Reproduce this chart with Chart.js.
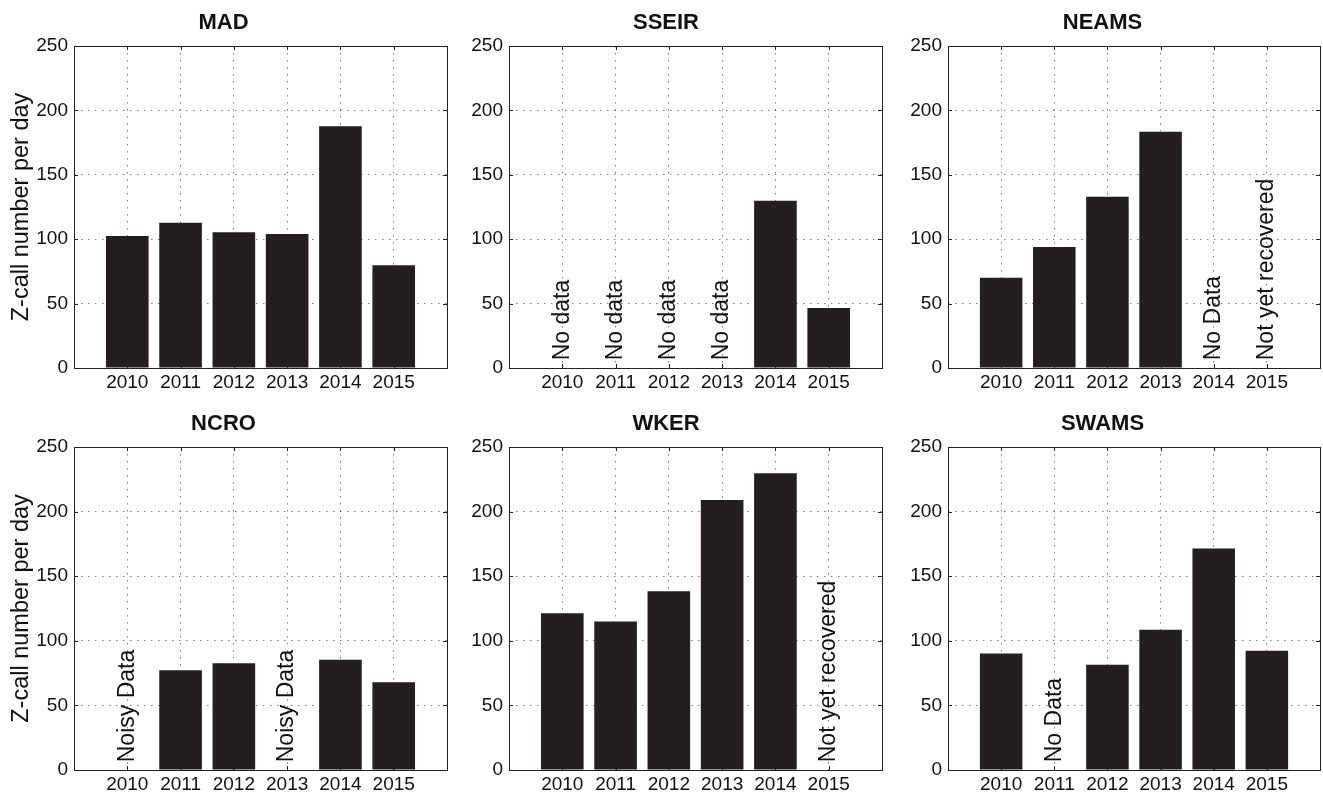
<!DOCTYPE html>
<html>
<head>
<meta charset="utf-8">
<script src="https://cdn.jsdelivr.net/npm/chart.js@4"></script>
<style>
  html, body { margin: 0; padding: 0; background: #fff; }
  body { width: 1323px; height: 794px; position: relative; overflow: hidden; }
  .panel { position: absolute; }
</style>
</head>
<body>
<div class="panel" id="p0"><canvas id="c0"></canvas></div>
<div class="panel" id="p1"><canvas id="c1"></canvas></div>
<div class="panel" id="p2"><canvas id="c2"></canvas></div>
<div class="panel" id="p3"><canvas id="c3"></canvas></div>
<div class="panel" id="p4"><canvas id="c4"></canvas></div>
<div class="panel" id="p5"><canvas id="c5"></canvas></div>
<script>
// data
const years = [2010, 2011, 2012, 2013, 2014, 2015];
const yTicks = [0, 50, 100, 150, 200, 250];
const titles = ['MAD', 'SSEIR', 'NEAMS', 'NCRO', 'WKER', 'SWAMS'];
const yLabel = 'Z-call number per day';

const madValues   = [102.5, 112.8, 105.3, 104.0, 187.6, 79.7];
const sseirValues = [null, null, null, null, 129.9, 46.6];
const neamsValues = [70.1, 93.9, 133.0, 183.5, null, null];
const ncroValues  = [null, 77.3, 82.7, null, 85.3, 68.0];
const wkerValues  = [121.3, 115.0, 138.3, 208.9, 229.6, null];
const swamsValues = [90.2, null, 81.4, 108.6, 171.4, 92.3];

const madNotes   = ['', '', '', '', '', ''];
const sseirNotes = ['No data', 'No data', 'No data', 'No data', '', ''];
const neamsNotes = ['', '', '', '', 'No Data', 'Not yet recovered'];
const ncroNotes  = ['Noisy Data', '', '', 'Noisy Data', '', ''];
const wkerNotes  = ['', '', '', '', '', 'Not yet recovered'];
const swamsNotes = ['', 'No Data', '', '', '', ''];

const allValues = [madValues, sseirValues, neamsValues, ncroValues, wkerValues, swamsValues];
const allNotes = [madNotes, sseirNotes, neamsNotes, ncroNotes, wkerNotes, swamsNotes];

const FONT = '"Liberation Sans", Arial, Helvetica, sans-serif';
const BAR = '#231f20';

// where each panel sits on the page
const cols = [
  { left: 0,   width: 450, yWidth: 74 },
  { left: 450, width: 435, yWidth: 59 },
  { left: 885, width: 438, yWidth: 63 }
];
const rows = [
  { top: 0,   height: 394, padTop: 0, padBottom: 2 },
  { top: 394, height: 400, padTop: 7, padBottom: 0 }
];

// box, inner tick marks and rotated notes
const frame = {
  id: 'frame',
  afterDraw(chart, args, opts) {
    const { ctx, chartArea: a, scales: { x, y } } = chart;
    ctx.save();
    ctx.strokeStyle = '#222';
    ctx.lineWidth = 1;
    ctx.setLineDash([]);
    ctx.beginPath();
    years.forEach(v => {
      const px = Math.round(x.getPixelForValue(v)) + 0.5;
      ctx.moveTo(px, a.top); ctx.lineTo(px, a.top + 4);
      ctx.moveTo(px, a.bottom); ctx.lineTo(px, a.bottom - 4);
    });
    yTicks.slice(1, -1).forEach(v => {
      const py = Math.round(y.getPixelForValue(v)) + 0.5;
      ctx.moveTo(a.left, py); ctx.lineTo(a.left + 4, py);
      ctx.moveTo(a.right, py); ctx.lineTo(a.right - 4, py);
    });
    ctx.stroke();
    ctx.strokeRect(Math.round(a.left) + 0.5, Math.round(a.top) + 0.5,
                   Math.round(a.right - a.left), Math.round(a.bottom - a.top));

    ctx.fillStyle = '#111';
    ctx.font = '23px ' + FONT;
    ctx.textAlign = 'left';
    ctx.textBaseline = 'middle';
    opts.notes.forEach((t, i) => {
      if (!t) return;
      ctx.save();
      ctx.translate(x.getPixelForValue(years[i]), y.getPixelForValue(6));
      ctx.rotate(-Math.PI / 2);
      ctx.fillText(t, 0, 0);
      ctx.restore();
    });
    ctx.restore();
  }
};

titles.forEach((title, k) => {
  const col = cols[k % 3];
  const row = rows[Math.floor(k / 3)];
  const box = document.getElementById('p' + k);
  box.style.left = col.left + 'px';
  box.style.top = row.top + 'px';
  box.style.width = col.width + 'px';
  box.style.height = row.height + 'px';

  new Chart(document.getElementById('c' + k), {
    type: 'bar',
    data: {
      labels: years,
      datasets: [{
        data: allValues[k],
        backgroundColor: BAR,
        borderWidth: 0,
        barPercentage: 0.8,
        categoryPercentage: 1.0
      }]
    },
    options: {
      responsive: true,
      maintainAspectRatio: false,
      animation: false,
      layout: { padding: { top: row.padTop, bottom: row.padBottom, left: 0, right: 3 } },
      plugins: {
        legend: { display: false },
        tooltip: { enabled: false },
        title: {
          display: true,
          text: title,
          color: '#111',
          font: { family: FONT, size: 22, weight: 'bold' },
          padding: { top: 9.8, bottom: 9.8 }
        },
        frame: { notes: allNotes[k] }
      },
      scales: {
        x: {
          type: 'linear',
          min: 2009,
          max: 2016,
          offset: false,
          grid: { offset: false, drawTicks: false, color: 'rgba(0,0,0,0.5)', lineWidth: 1 },
          border: { display: false, dash: [1.5, 5.5] },
          ticks: {
            stepSize: 1,
            autoSkip: false,
            maxRotation: 0,
            padding: 3,
            color: '#111',
            font: { family: FONT, size: 19 },
            callback: v => (v >= years[0] && v <= years[years.length - 1]) ? String(v) : ''
          },
          afterFit: s => { s.height = 24; }
        },
        y: {
          min: yTicks[0],
          max: yTicks[yTicks.length - 1],
          grid: { drawTicks: false, color: 'rgba(0,0,0,0.5)', lineWidth: 1 },
          border: { display: false, dash: [1.5, 5.5] },
          ticks: {
            stepSize: 50,
            padding: 6,
            color: '#111',
            font: { family: FONT, size: 19 }
          },
          title: {
            display: k % 3 === 0,
            text: yLabel,
            color: '#111',
            font: { family: FONT, size: 23.5 },
            padding: { top: 7, bottom: 0 }
          },
          afterFit: s => { s.width = col.yWidth; }
        }
      }
    },
    plugins: [frame]
  });
});
</script>
</body>
</html>
